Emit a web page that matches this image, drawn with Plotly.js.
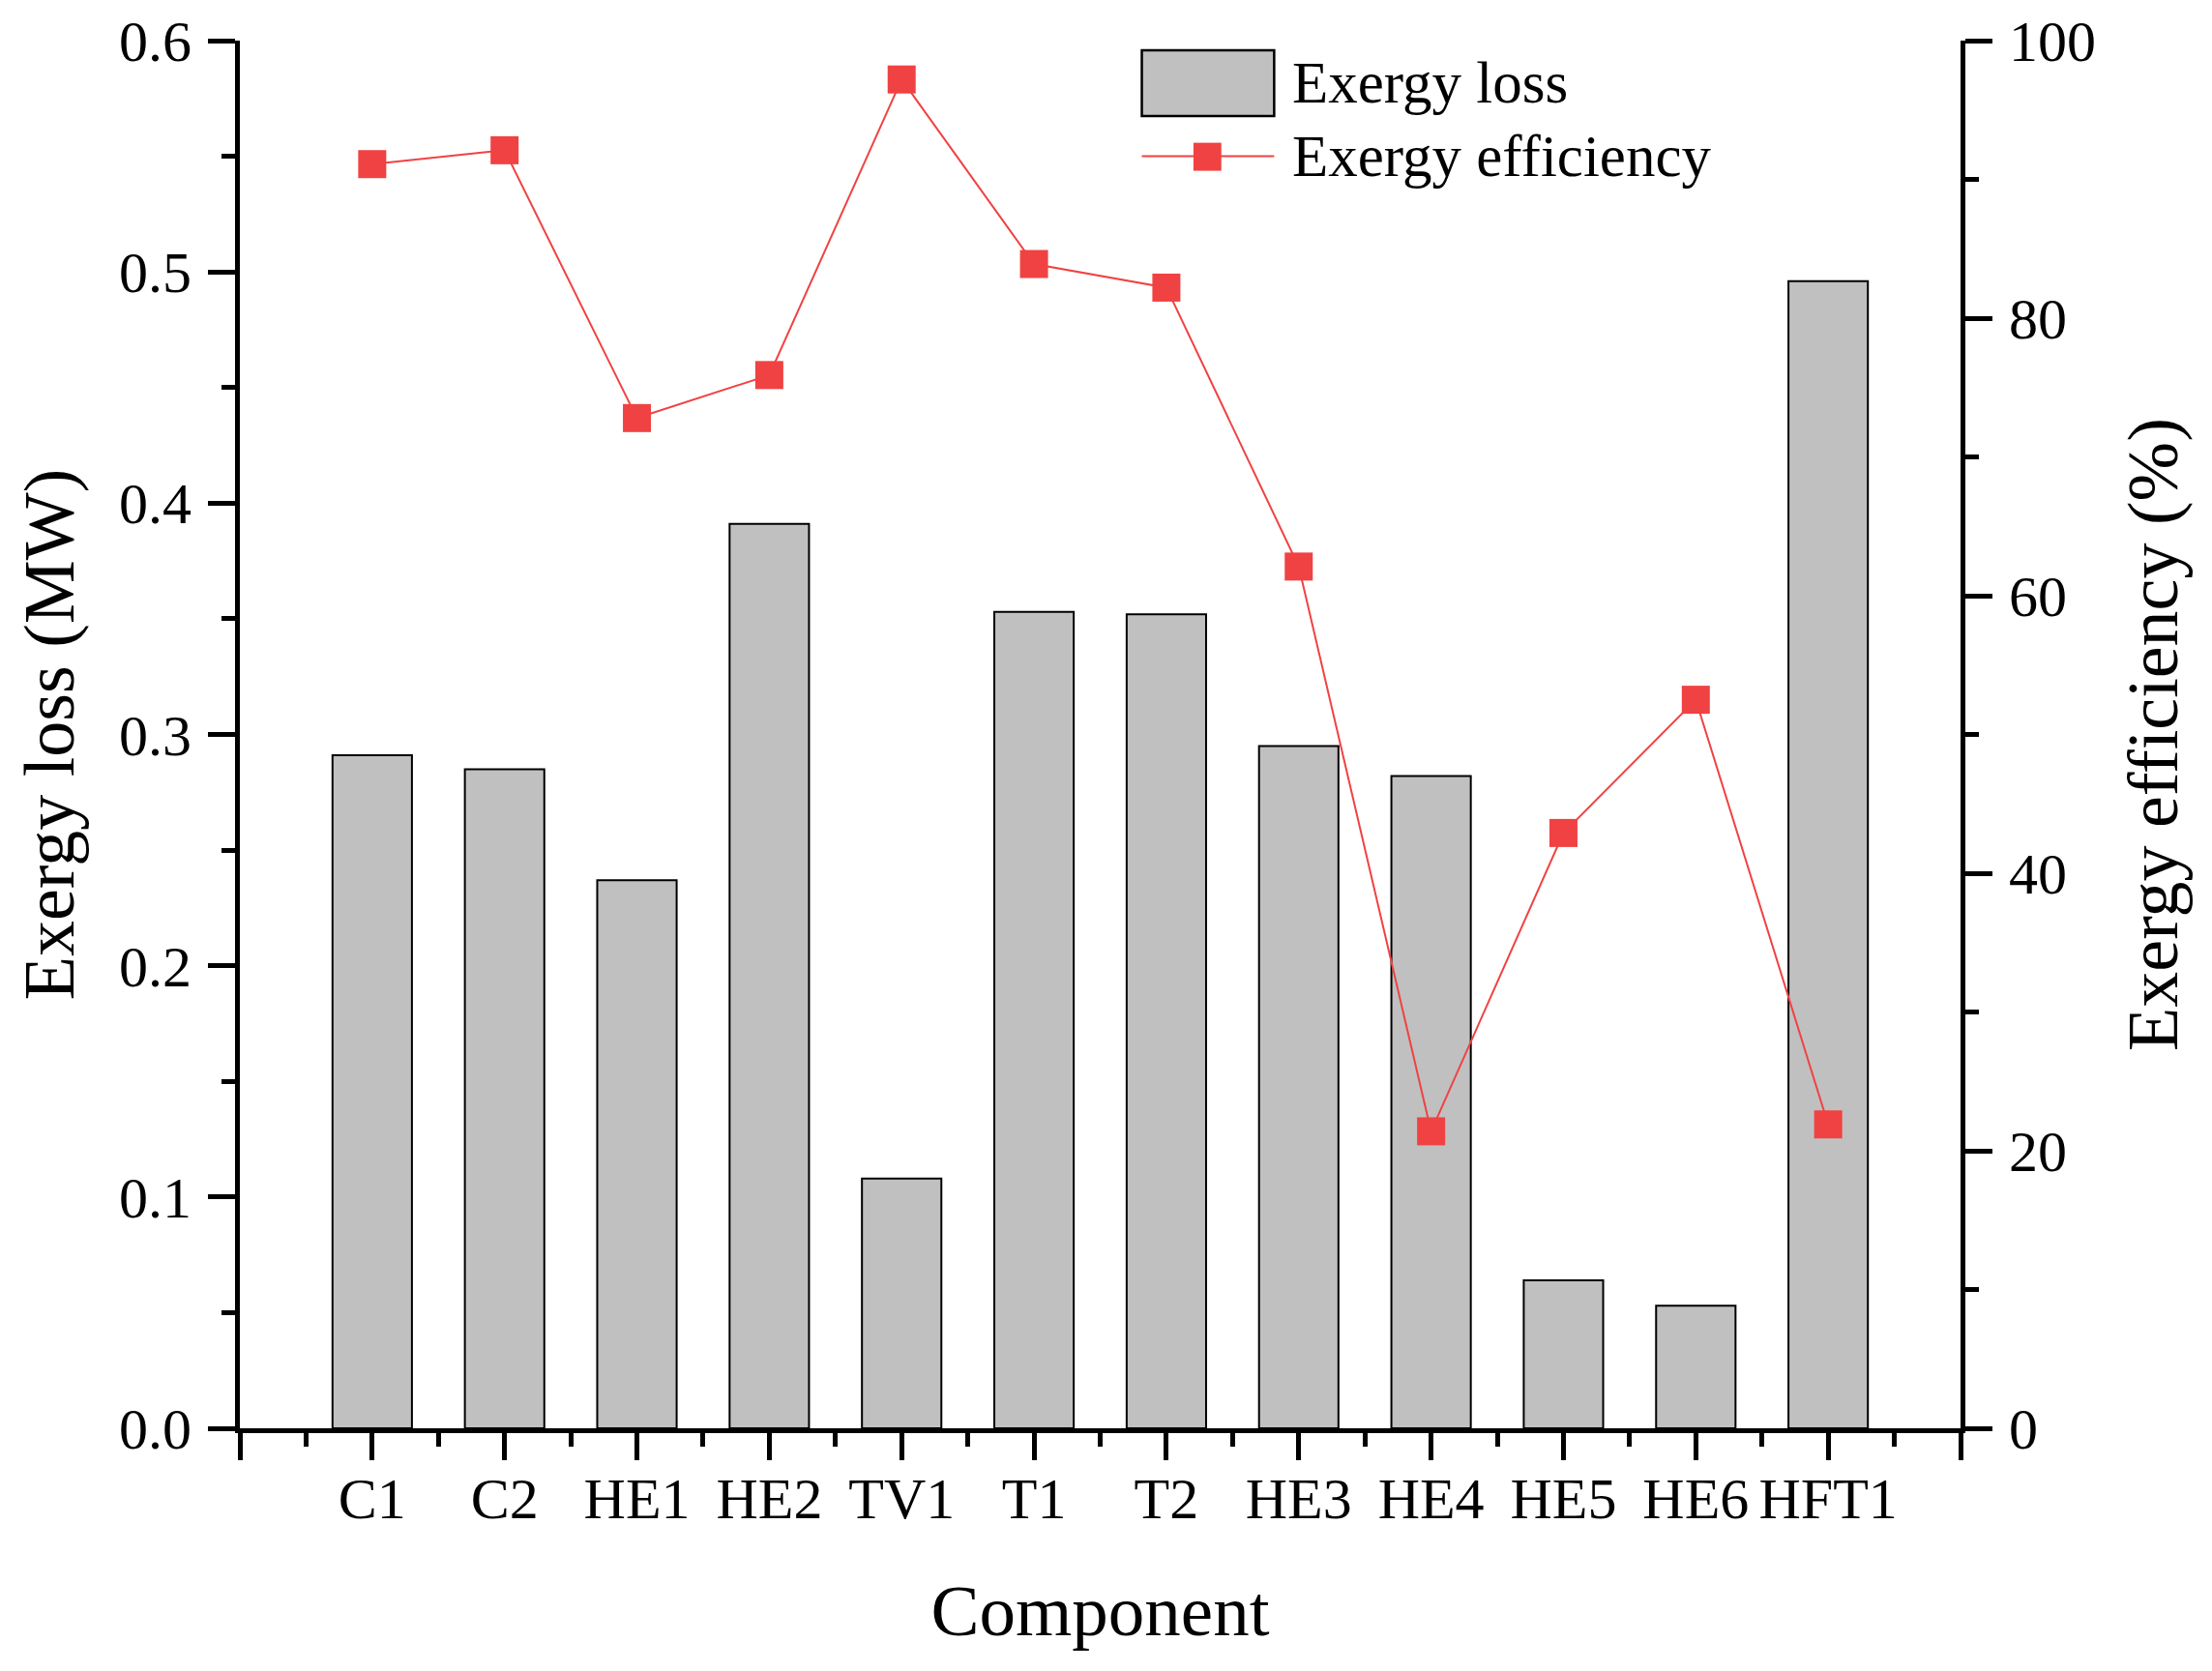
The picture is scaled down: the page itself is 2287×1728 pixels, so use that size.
<!DOCTYPE html>
<html>
<head>
<meta charset="utf-8">
<script src="https://cdn.plot.ly/plotly-3.0.1.min.js"></script>
<style>
  html, body { margin: 0; padding: 0; background: #fff; }
  #chart { width: 2287px; height: 1728px; }
</style>
</head>
<body>
<div id="chart"></div>
<script>
// components on the x axis
var components = ['C1', 'C2', 'HE1', 'HE2', 'TV1', 'T1', 'T2', 'HE3', 'HE4', 'HE5', 'HE6', 'HFT1'];
// exergy loss, MW (bars, left axis)
var exergyLoss = [0.291, 0.285, 0.237, 0.391, 0.108, 0.353, 0.352, 0.295, 0.282, 0.064, 0.053, 0.496];
// exergy efficiency, % (line, right axis)
var exergyEff = [91.1, 92.1, 72.8, 75.9, 97.2, 83.9, 82.2, 62.1, 21.4, 42.9, 52.5, 21.9];

var FONT = 'Liberation Serif, Times New Roman, serif';
var RED = 'rgb(240,66,66)';
var GREY = '#c0c0c0';

var xpos = components.map(function (c, i) { return i; });
// major ticks also at both ends of the axis, without labels
var tickVals = [-1].concat(xpos, [components.length]);
var tickText = [''].concat(components, ['']);

var bars = {
  type: 'bar',
  name: 'Exergy loss',
  x: xpos,
  y: exergyLoss,
  width: 0.6,
  marker: { color: GREY, line: { color: '#000', width: 2 } },
  yaxis: 'y',
  hoverinfo: 'x+y'
};

var line = {
  type: 'scatter',
  mode: 'lines+markers',
  name: 'Exergy efficiency',
  x: xpos,
  y: exergyEff,
  line: { color: RED, width: 2 },
  marker: { symbol: 'square', size: 29, color: RED },
  yaxis: 'y2',
  cliponaxis: false
};

var axisCommon = {
  showline: true,
  linecolor: '#000',
  linewidth: 5,
  ticks: 'outside',
  ticklen: 28,
  tickwidth: 5,
  tickcolor: '#000',
  showgrid: false,
  zeroline: false,
  tickfont: { family: FONT, size: 60, color: '#000' }
};

var layout = {
  width: 2287,
  height: 1728,
  margin: { l: 248, r: 260, t: 42, b: 251 },
  paper_bgcolor: '#fff',
  plot_bgcolor: '#fff',
  showlegend: false,
  font: { family: FONT, color: '#000' },
  xaxis: Object.assign({}, axisCommon, {
    range: [-1, components.length],
    tickmode: 'array',
    tickvals: tickVals,
    ticktext: tickText,
    ticklabelstandoff: -12,
    minor: { dtick: 0.5, tick0: -1, ticks: 'outside', ticklen: 14, tickwidth: 5, tickcolor: '#000' },
    title: { text: 'Component', font: { family: FONT, size: 75, color: '#000' }, standoff: 58 }
  }),
  yaxis: Object.assign({}, axisCommon, {
    range: [0, 0.6],
    dtick: 0.1,
    tickformat: '.1f',
    ticklabelstandoff: 5,
    minor: { dtick: 0.05, ticks: 'outside', ticklen: 14, tickwidth: 5, tickcolor: '#000' },
    title: { text: 'Exergy loss (MW)', font: { family: FONT, size: 74, color: '#000' }, standoff: 24 }
  }),
  yaxis2: Object.assign({}, axisCommon, {
    overlaying: 'y',
    side: 'right',
    anchor: 'x',
    range: [0, 100],
    dtick: 20,
    ticklabelstandoff: 5,
    minor: { dtick: 10, ticks: 'outside', ticklen: 14, tickwidth: 5, tickcolor: '#000' },
    title: { text: 'Exergy efficiency (%)', font: { family: FONT, size: 74, color: '#000' }, standoff: 35 }
  }),
  // hand-drawn legend, Origin style (large swatches)
  shapes: [
    { type: 'rect', xref: 'paper', yref: 'paper', x0: 0.5242, x1: 0.6011, y0: 0.9457, y1: 0.9930,
      fillcolor: GREY, line: { color: '#000', width: 2.5 } },
    { type: 'line', xref: 'paper', yref: 'paper', x0: 0.5242, x1: 0.6011, y0: 0.9168, y1: 0.9168,
      line: { color: RED, width: 2 } },
    { type: 'rect', xref: 'paper', yref: 'paper', x0: 0.5542, x1: 0.5704, y0: 0.9062, y1: 0.9264,
      fillcolor: RED, line: { width: 0 } }
  ],
  annotations: [
    { xref: 'paper', yref: 'paper', x: 0.6105, y: 0.9697, xanchor: 'left', yanchor: 'middle',
      text: 'Exergy loss', showarrow: false, font: { family: FONT, size: 61, color: '#000' } },
    { xref: 'paper', yref: 'paper', x: 0.6105, y: 0.9169, xanchor: 'left', yanchor: 'middle',
      text: 'Exergy efficiency', showarrow: false, font: { family: FONT, size: 61, color: '#000' } }
  ]
};

Plotly.newPlot('chart', [bars, line], layout, { displayModeBar: false, staticPlot: true });
</script>
</body>
</html>
